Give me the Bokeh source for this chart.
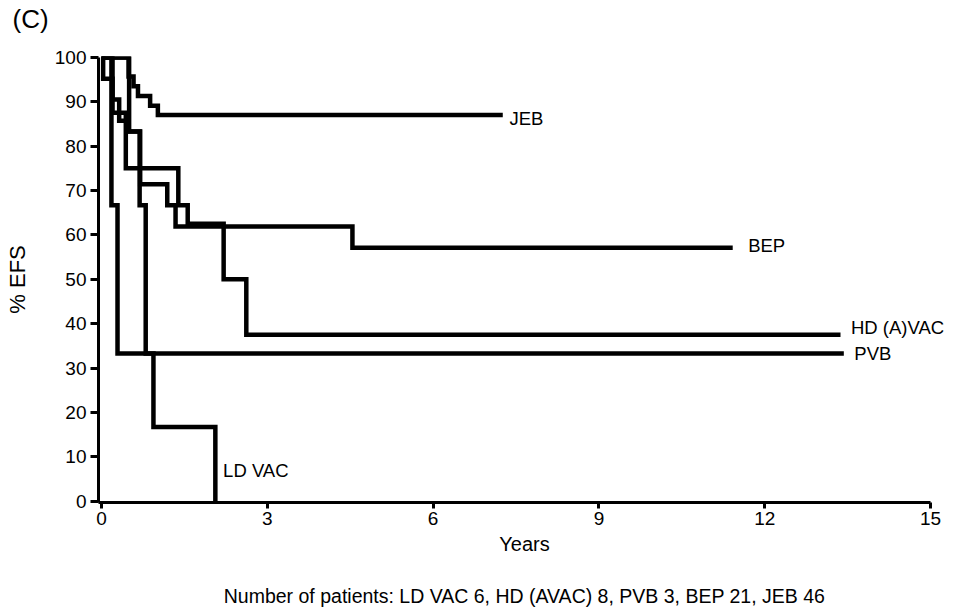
from bokeh.plotting import figure
from bokeh.models import Range1d, Label, FixedTicker, Title
from bokeh.embed import file_html
from bokeh.resources import INLINE

# ---- data (years, % EFS) ----
jeb_t = [0, 0.49, 0.58, 0.66, 0.88, 1.02, 7.26]
jeb_v = [100, 95.7, 93.5, 91.3, 89.1, 87.0, 87.0]

bep_t = [0, 0.03, 0.20, 0.32, 0.45, 0.70, 1.19, 1.34, 4.54, 11.42]
bep_v = [100, 95.2, 90.5, 85.7, 83.3, 71.4, 66.7, 61.9, 57.1, 57.1]

hd_t = [0, 0.20, 0.44, 1.39, 1.56, 2.21, 2.62, 13.37]
hd_v = [100, 87.5, 75.0, 66.7, 62.5, 50.0, 37.5, 37.5]

pvb_t = [0, 0.18, 0.29, 13.43]
pvb_v = [100, 66.7, 33.3, 33.3]

ldvac_t = [0, 0.50, 0.69, 0.80, 0.94, 2.06]
ldvac_v = [100, 83.3, 66.7, 33.3, 16.7, 0.0]

curve_names = ["JEB", "BEP", "HD (A)VAC", "PVB", "LD VAC"]
x_ticks = [0, 3, 6, 9, 12, 15]
y_ticks = [0, 10, 20, 30, 40, 50, 60, 70, 80, 90, 100]
footnote = "Number of patients: LD VAC 6, HD (AVAC) 8, PVB 3, BEP 21, JEB 46"

FONT = "Liberation Sans"
X0 = -0.054

p = figure(width=950, height=612, output_backend="svg", toolbar_location=None,
           x_range=Range1d(X0, 15.36), y_range=Range1d(-0.3, 100.2),
           min_border_left=98, min_border_right=0, min_border_top=56,
           min_border_bottom=110)
p.outline_line_color = None
p.xgrid.visible = False
p.ygrid.visible = False
p.background_fill_color = "white"
p.border_fill_color = "white"

p.title.text = "(C)"
p.title.text_font = FONT
p.title.text_font_size = "26px"
p.title.text_font_style = "normal"
p.title.text_color = "black"
p.title.align = "left"
p.title.offset = -86
p.title.standoff = 0

# spacer between frame and the "(C)" title
p.add_layout(Title(text=" ", text_font=FONT, text_font_size="16px", standoff=4), "above")

for t, v in [(jeb_t, jeb_v), (bep_t, bep_v), (hd_t, hd_v), (pvb_t, pvb_v), (ldvac_t, ldvac_v)]:
    p.step(t, v, mode="after", line_color="black", line_width=4.5, line_join="miter")

for ax in (p.xaxis[0], p.yaxis[0]):
    ax.axis_line_width = 3
    ax.axis_line_color = "black"
    ax.major_tick_line_width = 3
    ax.major_tick_line_color = "black"
    ax.major_tick_in = 0
    ax.minor_tick_line_color = None
    ax.major_label_text_font = FONT
    ax.major_label_text_font_size = "19px"
    ax.major_label_text_color = "black"
    ax.axis_label_text_font = FONT
    ax.axis_label_text_font_style = "normal"
    ax.axis_label_text_color = "black"

p.xaxis.ticker = FixedTicker(ticks=x_ticks)
p.yaxis.ticker = FixedTicker(ticks=y_ticks)
p.xaxis.bounds = (X0, 15)
p.yaxis.bounds = (-0.3, 100)
p.xaxis.major_tick_out = 6
p.yaxis.major_tick_out = 8
p.xaxis.major_label_standoff = 3
p.yaxis.major_label_standoff = 4

p.xaxis.axis_label = "Years"
p.xaxis.axis_label_text_font_size = "20px"
p.xaxis.axis_label_standoff = 5
p.yaxis.axis_label = "% EFS"
p.yaxis.axis_label_text_font_size = "22px"
p.yaxis.axis_label_standoff = 22

# spacer between the x axis and the footnote
p.add_layout(Title(text=" ", text_font=FONT, text_font_size="16px", standoff=6), "below")
p.add_layout(Title(text=footnote, text_font=FONT, text_font_size="19.5px",
                   text_font_style="normal", text_color="black", align="center",
                   offset=-9, standoff=0), "below")

def lab(x, y, text, size="18.5px"):
    p.add_layout(Label(x=x, y=y, text=text, text_font=FONT, text_font_size=size,
                       text_align="left", text_baseline="middle", text_color="black"))

# curve labels
lab(7.38, 86.3, curve_names[0])
lab(11.7, 57.6, curve_names[1])
lab(13.56, 39.2, curve_names[2])
lab(13.62, 33.3, curve_names[3])
lab(2.2, 6.8, curve_names[4])

open("out.html", "w").write(file_html(p, INLINE))
